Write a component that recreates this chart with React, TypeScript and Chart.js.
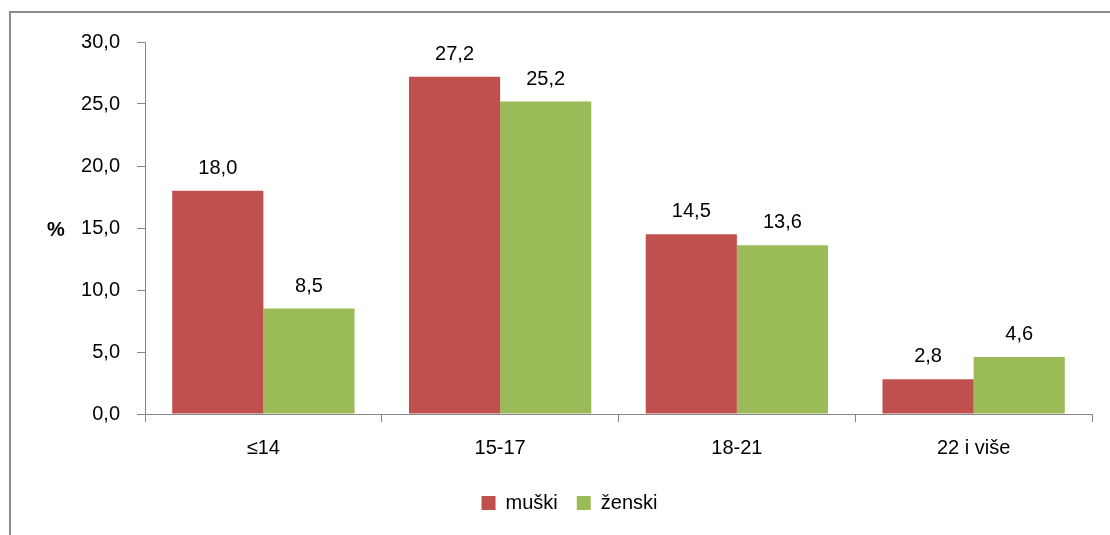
import React, { useEffect, useRef } from "react";
import { Chart, registerables } from "chart.js";

Chart.register(...registerables);

const categories = ["≤14", "15-17", "18-21", "22 i više"];
const muski = [18.0, 27.2, 14.5, 2.8];
const zenski = [8.5, 25.2, 13.6, 4.6];
const seriesNames = ["muški", "ženski"];
const yTitle = "%";

const FONT = "'Liberation Sans', Arial, sans-serif";
const AXIS = "#868686";

const fmt = (v: number) => v.toFixed(1).replace(".", ",");

const labelPlugin = {
  id: "barLabels",
  afterDatasetsDraw(chart: any) {
    const ctx = chart.ctx;
    ctx.save();
    ctx.font = `20px ${FONT}`;
    ctx.fillStyle = "#000";
    ctx.textAlign = "center";
    ctx.textBaseline = "alphabetic";
    chart.data.datasets.forEach((ds: any, di: number) => {
      const meta = chart.getDatasetMeta(di);
      meta.data.forEach((bar: any, i: number) => {
        ctx.fillText(fmt(ds.data[i]), bar.x, bar.y - 17);
      });
    });
    const ys = chart.scales.y;
    ctx.font = `bold 20px ${FONT}`;
    ctx.textBaseline = "middle";
    ctx.fillText(yTitle, ys.left + 9, (ys.top + ys.bottom) / 2 + 2);
    ctx.restore();
  },
};

export default function App() {
  const ref = useRef<HTMLCanvasElement>(null);
  useEffect(() => {
    if (!ref.current) return;
    const chart = new Chart(ref.current, {
      type: "bar",
      data: {
        labels: categories,
        datasets: [
          { label: seriesNames[0], data: muski, backgroundColor: "#C0504D", categoryPercentage: 0.77, barPercentage: 1 },
          { label: seriesNames[1], data: zenski, backgroundColor: "#9BBB59", categoryPercentage: 0.77, barPercentage: 1 },
        ],
      },
      options: {
        animation: false,
        responsive: false,
        layout: { padding: { left: 36, right: 18, top: 20, bottom: 12 } },
        plugins: {
          tooltip: { enabled: false },
          legend: {
            position: "bottom",
            labels: {
              boxWidth: 14,
              boxHeight: 14,
              color: "#000",
              padding: 19,
              font: { family: FONT, size: 20 },
            },
          },
        },
        scales: {
          x: {
            grid: { display: true, drawOnChartArea: false, drawTicks: true, tickLength: 8, color: AXIS, offset: true },
            border: { display: true, color: AXIS, width: 1 },
            ticks: { color: "#000", padding: 14, font: { family: FONT, size: 20 } },
          },
          y: {
            min: 0,
            max: 30,
            afterFit: (s: any) => { s.width = 98; },
            grid: { display: true, drawOnChartArea: false, drawTicks: true, tickLength: 8, color: AXIS },
            border: { display: true, color: AXIS, width: 1 },
            ticks: { stepSize: 5, color: "#000", padding: 17, font: { family: FONT, size: 20 }, callback: (v: any) => fmt(Number(v)) },
          },
        },
      },
      plugins: [labelPlugin],
    });
    return () => chart.destroy();
  }, []);
  return (
    <div style={{ position: "absolute", left: 9, top: 11, width: 1099, height: 522, borderLeft: "2px solid #8c8c8c", borderTop: "2px solid #8c8c8c", background: "#fff" }}>
      <canvas ref={ref} width={1099} height={522} style={{ display: "block", width: 1099, height: 522 }} />
    </div>
  );
}
